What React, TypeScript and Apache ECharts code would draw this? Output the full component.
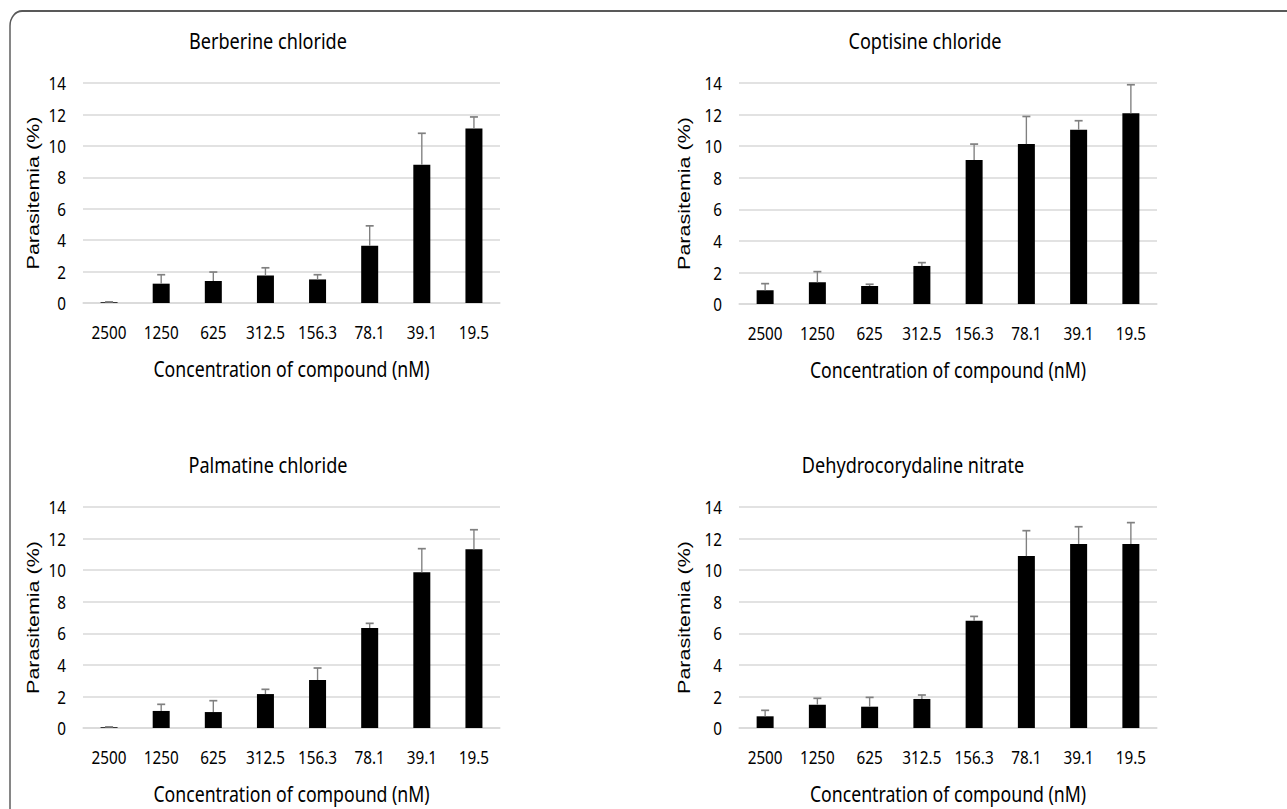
import React, { useEffect, useRef } from "react";
import * as echarts from "echarts";

const categories = ["2500", "1250", "625", "312.5", "156.3", "78.1", "39.1", "19.5"];

const titles = ["Berberine chloride", "Coptisine chloride", "Palmatine chloride", "Dehydrocorydaline nitrate"];

const berberineMean = [0.05, 1.23, 1.4, 1.75, 1.5, 3.64, 8.8, 11.1];
const berberineSD = [0.02, 0.57, 0.57, 0.49, 0.3, 1.27, 2.0, 0.74];

const coptisineMean = [0.87, 1.37, 1.14, 2.41, 9.13, 10.13, 11.04, 12.09];
const coptisineSD = [0.42, 0.68, 0.11, 0.21, 1.0, 1.75, 0.57, 1.8];

const palmatineMean = [0.05, 1.08, 1.01, 2.15, 3.04, 6.33, 9.86, 11.32];
const palmatineSD = [0.02, 0.42, 0.72, 0.3, 0.76, 0.3, 1.5, 1.24];

const dehydroMean = [0.74, 1.48, 1.35, 1.84, 6.8, 10.89, 11.66, 11.66];
const dehydroSD = [0.38, 0.4, 0.59, 0.25, 0.27, 1.61, 1.09, 1.35];

const yTicks = [0, 2, 4, 6, 8, 10, 12, 14];

const xAxisName = "Concentration of compound (nM)";
const yAxisName = "Parasitemia (%)";

const FONT = "'Noto Sans', sans-serif";
const FONT_ROT = "'Liberation Sans', 'Noto Sans', sans-serif";

// The figure is drawn on a wider canvas and squeezed horizontally,
// reproducing the narrow, tall lettering of the original.
const PAGE_W = 1287;
const PAGE_H = 809;
const CANVAS_W = 1600;
const K = CANVAS_W / PAGE_W;

export default function App() {
  const ref = useRef<HTMLDivElement>(null);
  useEffect(() => {
    document.body.style.margin = "0";
    const chart = echarts.init(ref.current!, null, { renderer: "svg" });
    const means = [berberineMean, coptisineMean, palmatineMean, dehydroMean];
    const sds = [berberineSD, coptisineSD, palmatineSD, dehydroSD];
    const gridsPx = [
      { left: 83, top: 83, width: 417, height: 220 },
      { left: 739, top: 83, width: 418, height: 221 },
      { left: 83, top: 507, width: 417, height: 221 },
      { left: 739, top: 507, width: 418, height: 221 },
    ];
    const grids = gridsPx.map((g) => ({ left: g.left * K, top: g.top, width: g.width * K, height: g.height }));
    const titlePos = [
      { x: 268, y: 28.5 },
      { x: 925, y: 28.5 },
      { x: 268, y: 452.5 },
      { x: 913, y: 452.5 },
    ];
    const yGaps = [52, 58, 52, 58];

    const series: any[] = [];
    means.forEach((m, i) => {
      series.push({
        type: "bar",
        xAxisIndex: i,
        yAxisIndex: i,
        data: m,
        barWidth: 17 * K,
        itemStyle: { color: "#000" },
        silent: true,
      });
      series.push({
        type: "custom",
        xAxisIndex: i,
        yAxisIndex: i,
        data: m.map((v, j) => [j, v, v + sds[i][j]]),
        encode: { x: 0, y: [1, 2] },
        z: 3,
        silent: true,
        renderItem: (params: any, api: any) => {
          const base = api.coord([api.value(0), api.value(1)]);
          const top = api.coord([api.value(0), api.value(2)]);
          const style = { stroke: "#808080", lineWidth: 1.7, fill: null };
          const hw = 4 * K;
          return {
            type: "group",
            children: [
              { type: "line", shape: { x1: base[0], y1: base[1], x2: top[0], y2: top[1] }, style },
              { type: "line", shape: { x1: top[0] - hw, y1: top[1], x2: top[0] + hw, y2: top[1] }, style },
            ],
          };
        },
      });
    });

    chart.setOption({
      animation: false,
      backgroundColor: "#fff",
      textStyle: { fontFamily: FONT },
      title: titles.map((t, i) => ({
        text: t,
        left: titlePos[i].x * K,
        top: titlePos[i].y,
        padding: 0,
        textAlign: "center",
        textStyle: { fontFamily: FONT, fontSize: 22.5, fontWeight: "normal", color: "#000" },
      })),
      graphic: [
        {
          type: "rect",
          shape: { x: 10 * K, y: 11, width: 2000, height: 1000, r: [15, 0, 0, 0] },
          style: { fill: null, stroke: "#595959", lineWidth: 1.8 },
          silent: true,
        },
      ],
      grid: grids,
      xAxis: grids.map((_, i) => ({
        type: "category",
        gridIndex: i,
        data: categories,
        name: xAxisName,
        nameLocation: "middle",
        nameGap: 55,
        nameTextStyle: { fontFamily: FONT, fontSize: 22, color: "#000" },
        axisLine: { show: true, lineStyle: { color: "#d9d9d9", width: 1.5 } },
        axisTick: { show: false },
        axisLabel: { interval: 0, margin: 19, fontFamily: FONT, fontSize: 19, color: "#000" },
      })),
      yAxis: grids.map((_, i) => ({
        type: "value",
        gridIndex: i,
        min: yTicks[0],
        max: yTicks[yTicks.length - 1],
        interval: 2,
        name: yAxisName,
        nameLocation: "middle",
        nameGap: yGaps[i],
        nameTextStyle: { fontFamily: FONT_ROT, fontSize: 21.5, color: "#000" },
        axisLine: { show: false },
        axisTick: { show: false },
        axisLabel: { margin: 17 * K, fontFamily: FONT, fontSize: 19, color: "#000" },
        splitLine: { show: true, lineStyle: { color: "#d9d9d9", width: 1.5 } },
      })),
      series,
    });
    return () => chart.dispose();
  }, []);
  return (
    <div style={{ position: "absolute", left: 0, top: 0, width: PAGE_W, height: PAGE_H, overflow: "hidden" }}>
      <div
        ref={ref}
        style={{
          position: "absolute",
          left: 0,
          top: 0,
          width: CANVAS_W,
          height: PAGE_H,
          transform: `scaleX(${1 / K})`,
          transformOrigin: "0 0",
        }}
      />
    </div>
  );
}
